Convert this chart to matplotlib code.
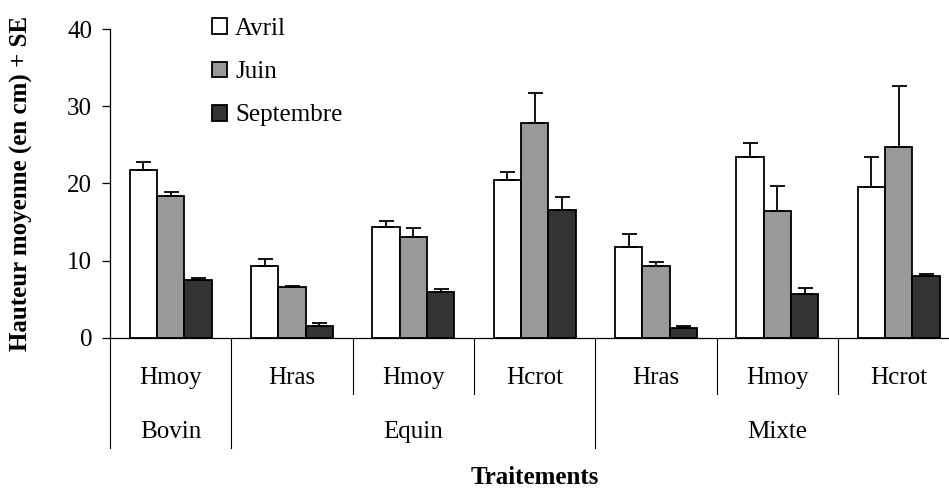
import matplotlib
matplotlib.use("Agg")
import matplotlib.pyplot as plt
import numpy as np
from matplotlib.transforms import blended_transform_factory

plt.rcParams['font.family'] = ['Liberation Serif', 'DejaVu Serif']

# ---- data ----
sub_labels = ["Hmoy", "Hras", "Hmoy", "Hcrot", "Hras", "Hmoy", "Hcrot"]
groups = ["Bovin", "Equin", "Mixte"]
group_sizes = [1, 3, 3]
series_names = ["Avril", "Juin", "Septembre"]

avril = [21.8, 9.35, 14.3, 20.5, 11.7, 23.4, 19.5]
juin = [18.4, 6.55, 13.0, 27.8, 9.35, 16.4, 24.7]
sept = [7.5, 1.56, 5.97, 16.6, 1.3, 5.7, 8.05]
se_avril = [1.0, 0.8, 0.8, 1.0, 1.8, 1.8, 3.9]
se_juin = [0.5, 0.2, 1.25, 3.9, 0.5, 3.3, 8.0]
se_sept = [0.3, 0.3, 0.3, 1.6, 0.25, 0.8, 0.25]

colors = ["#ffffff", "#999999", "#333333"]
FS = 18

W, H = 949, 488
fig = plt.figure(figsize=(W / 100, H / 100), dpi=100)
left_px, right_px = 110, 110 + 7 * 121.33
top_px, bot_px = 29.3, 337.7
ax = fig.add_axes([left_px / W, 1 - bot_px / H, (right_px - left_px) / W, (bot_px - top_px) / H])

n = len(sub_labels)
x = np.arange(n) + 0.5
bw = 0.225
vals = [avril, juin, sept]
ses = [se_avril, se_juin, se_sept]
for k in range(3):
    xs = x + (k - 1) * bw
    ax.bar(xs, vals[k], width=bw, color=colors[k], edgecolor="black",
           linewidth=1.3, label=series_names[k], zorder=2)
    ax.errorbar(xs, vals[k], yerr=[np.zeros(n), ses[k]], fmt="none",
                ecolor="black", elinewidth=1.3, capsize=5.4, capthick=1.3, zorder=3)

ax.set_xlim(0, n)
ax.set_ylim(0, 40)
ax.set_yticks([0, 10, 20, 30, 40])
ax.tick_params(axis="y", labelsize=FS, direction="out", length=5.8, width=0.9, pad=7)
ax.set_xticks([])
for s in ["top", "right"]:
    ax.spines[s].set_visible(False)
ax.spines["left"].set_linewidth(0.9)
ax.spines["bottom"].set_linewidth(0.9)

# hierarchical category axis
tr = blended_transform_factory(ax.transData, ax.transAxes)
axh = bot_px - top_px
inner_end = -(394 - bot_px) / axh
outer_end = -(448 - bot_px) / axh
outer = [0]
c = 0
for g in group_sizes:
    c += g
    outer.append(c)
for b in range(n + 1):
    yend = outer_end if b in outer else inner_end
    ax.plot([b, b], [0, yend], color="black", linewidth=0.8, transform=tr, clip_on=False)

sub_y = -(378 - bot_px) / axh
grp_y = -(432 - bot_px) / axh
for i, lab in enumerate(sub_labels):
    ax.text(x[i], sub_y, lab, transform=tr, ha="center", va="center", fontsize=FS)
start = 0
for g, size in zip(groups, group_sizes):
    ax.text(start + size / 2, grp_y, g, transform=tr, ha="center", va="center", fontsize=FS)
    start += size

fig.text(535 / W, 1 - 478 / H, "Traitements", ha="center", va="center",
         fontsize=FS, fontweight="bold")
fig.text(21 / W, 1 - 183 / H, "Hauteur moyenne (en cm) + SE", rotation=90,
         ha="center", va="center", fontsize=FS, fontweight="bold")

leg = ax.legend(loc="upper left", bbox_to_anchor=(212 / W, 1 - 18 / H),
                bbox_transform=fig.transFigure, frameon=False, fontsize=FS,
                handlelength=0.6, handleheight=0.6, handletextpad=0.32,
                labelspacing=0.85, borderpad=0, borderaxespad=0)

fig.savefig("out.png", dpi=100)
